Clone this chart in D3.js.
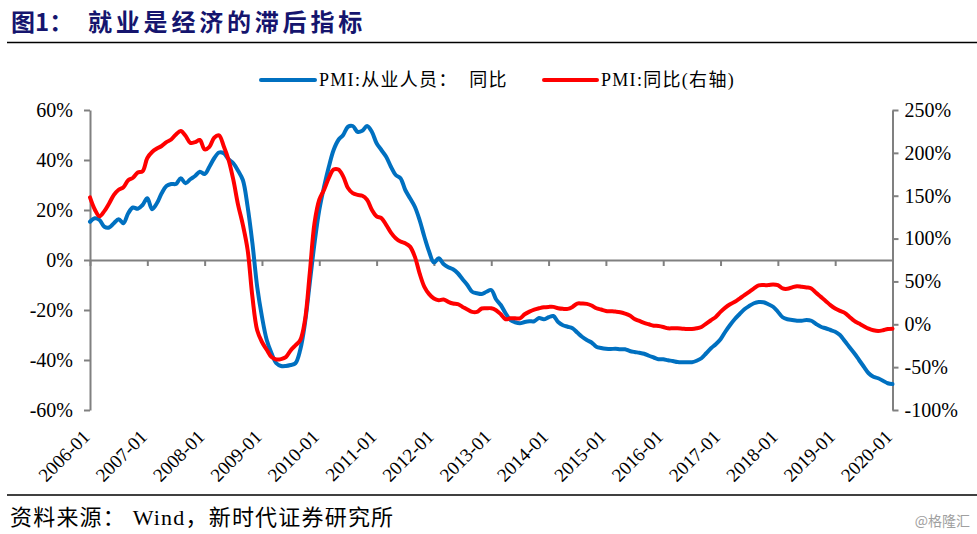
<!DOCTYPE html>
<html>
<head>
<meta charset="utf-8">
<script src="https://cdn.jsdelivr.net/npm/d3@7/dist/d3.min.js"></script>
<style>
  html, body { margin: 0; padding: 0; background: #ffffff; }
  svg { display: block; }
</style>
</head>
<body>
<svg id="chart" width="977" height="534"></svg>
<script>
// ---------- DATA ----------
const startYear = 2006;
const tickLabels = ["2006-01","2007-01","2008-01","2009-01","2010-01","2011-01","2012-01",
  "2013-01","2014-01","2015-01","2016-01","2017-01","2018-01","2019-01","2020-01"];
const leftTicks = [-60, -40, -20, 0, 20, 40, 60];
const rightTicks = [-100, -50, 0, 50, 100, 150, 200, 250];

// PMI:从业人员：同比 (%), monthly 2006-01 .. 2020-01 (left axis)
const employmentYoY = [
  15.3, 16.7, 16.0, 13.3, 13.0, 14.7, 16.3, 14.7, 18.7, 21.0, 20.5, 22.0,
  24.7, 20.3, 22.7, 26.7, 29.6, 30.4, 30.4, 32.7, 30.7, 32.3, 33.6, 35.3,
  34.4, 37.3, 40.7, 43.0, 42.7, 40.3, 38.7, 35.7, 32.0, 21.3, 6.7, -10.7,
  -22.7, -32.0, -37.3, -41.3, -42.4, -42.4, -42.0, -41.3, -36.0, -25.3, -9.3, 6.7,
  20.0, 29.3, 37.3, 44.0, 48.0, 50.0, 53.3, 53.6, 51.3, 51.7, 53.6, 51.3,
  46.7, 44.0, 41.3, 37.3, 34.0, 32.7, 28.0, 24.7, 21.3, 16.0, 9.3, 3.3,
  -1.0, 0.7, -1.6, -2.9, -3.7, -5.3, -7.7, -10.0, -12.7, -13.3, -13.6, -12.7,
  -12.0, -15.7, -18.0, -21.3, -24.0, -24.9, -25.3, -24.8, -24.5, -24.5, -23.2, -23.7,
  -22.9, -22.4, -24.8, -26.1, -26.7, -27.3, -29.0, -30.7, -32.0, -33.0, -34.7, -35.2,
  -35.5, -35.6, -35.5, -35.7, -35.7, -36.4, -36.8, -37.1, -37.5, -38.3, -39.0, -39.7,
  -39.7, -40.1, -40.4, -40.8, -40.9, -40.9, -40.9, -40.3, -39.3, -37.3, -35.3, -33.7,
  -31.7, -28.7, -26.0, -23.6, -21.6, -19.7, -18.4, -17.3, -16.8, -16.9, -17.7, -18.7,
  -20.7, -22.9, -23.7, -24.0, -24.3, -24.3, -24.0, -24.3, -25.6, -26.7, -27.3, -28.0,
  -28.7, -30.0, -32.4, -34.9, -37.3, -40.0, -42.7, -45.3, -46.7, -47.3, -48.3, -49.3,
  -49.6
];

// PMI:同比 (%), monthly 2006-01 .. 2020-01 (right axis)
const pmiYoY = [
  148, 134, 126, 132, 141, 151, 157, 160, 168, 171, 177, 178.5,
  194, 201, 205, 208, 212.5, 215.6, 221.5, 225.4, 220, 211.7, 212.5, 215,
  204, 207, 217.6, 220.3, 207.8, 192, 168.7, 139.4, 116, 86.7, 32, -7,
  -20.7, -29.7, -38.3, -41, -40.6, -38.3, -30.5, -24.6, -18.7, 4.7, 59.4, 118,
  145.3, 157, 170.7, 180.5, 180.5, 172.6, 159, 153, 151, 150, 145.3, 133.6,
  125.8, 123.8, 116, 107, 100.4, 96.5, 94.5, 90.6, 78.9, 59.4, 43.7, 35.2,
  30, 28, 28.9, 26.2, 24.2, 23.4, 20.3, 17.2, 14.5, 14.5, 18.4, 18.7,
  18.7, 16.4, 11.7, 5.9, 7, 7, 7, 11.7, 14.8, 17.2, 18.7, 19.9,
  20.3, 20.3, 18.7, 18, 18, 20.3, 24.2, 24.2, 23.8, 21.9, 18.7, 17.2,
  15.6, 15.2, 14.8, 14.1, 12.5, 10.2, 6.2, 3.9, 1.6, 0, -1.6, -2,
  -3.1, -4.7, -4.7, -4.7, -5.1, -5.5, -5.5, -4.7, -3.1, 0.8, 4.7, 8.6,
  14.5, 19.5, 23.4, 26.2, 30, 34, 37.9, 41.8, 45.3, 45.7, 45.7, 46.5,
  45.7, 41.8, 41.4, 43, 44.5, 43.7, 43, 41.8, 36.7, 32, 27.3, 22.3,
  18.4, 15.6, 13.3, 8.6, 3.9, 0.8, -2.3, -5.1, -7, -7.8, -7, -5.5,
  -5.1
];

const months = employmentYoY.map((_, i) => {
  const y = startYear + Math.floor(i / 12), m = (i % 12) + 1;
  return y + "-" + String(m).padStart(2, "0");
});

// ---------- CHART ----------
const svg = d3.select("#chart");
const W = 977, H = 534;
const plot = { left: 90, right: 892.5, top: 110, bottom: 410 };
const axisColor = "#808080";
const blue = "#0070C0", red = "#FF0000";
const serif = '"Liberation Serif", "Noto Sans CJK SC", serif';
const cjk = '"Liberation Serif", "Noto Sans CJK SC", sans-serif';

const x = d3.scaleLinear().domain([0, months.length - 1]).range([plot.left, plot.right]);
const yL = d3.scaleLinear().domain([-60, 60]).range([plot.bottom, plot.top]);
const yR = d3.scaleLinear().domain([-100, 250]).range([plot.bottom, plot.top]);

// Title
svg.append("text")
  .attr("x", 11).attr("y", 31)
  .attr("font-family", '"Noto Sans CJK SC", sans-serif')
  .attr("font-weight", "bold")
  .attr("font-size", 24)
  .attr("fill", "#15156e")
  .text("图1：");
svg.append("text")
  .attr("x", 88).attr("y", 31)
  .attr("font-family", '"Noto Sans CJK SC", sans-serif')
  .attr("font-weight", "bold")
  .attr("font-size", 24)
  .attr("letter-spacing", 3.8)
  .attr("fill", "#15156e")
  .text("就业是经济的滞后指标");
svg.append("line").attr("x1", 7).attr("x2", W).attr("y1", 42.5).attr("y2", 42.5)
  .attr("stroke", "#000").attr("stroke-width", 1.5);

// Legend
const legend = [
  { label: "PMI:从业人员：\u00a0\u00a0同比", color: blue, x1: 261, x2: 315, tx: 319 },
  { label: "PMI:同比(右轴)", color: red, x1: 544, x2: 597, tx: 601 }
];
legend.forEach(d => {
  svg.append("line").attr("x1", d.x1).attr("x2", d.x2).attr("y1", 80).attr("y2", 80)
    .attr("stroke", d.color).attr("stroke-width", 4).attr("stroke-linecap", "round");
  svg.append("text").attr("x", d.tx).attr("y", 86)
    .attr("font-family", cjk).attr("font-size", 18).attr("fill", "#000")
    .attr("letter-spacing", 1.3)
    .text(d.label);
});

// Left axis
const gL = svg.append("g").attr("transform", `translate(${plot.left},0)`)
  .call(d3.axisLeft(yL).tickValues(leftTicks).tickSize(6).tickSizeOuter(0)
    .tickFormat(d => d + "%"));
gL.select(".domain").attr("stroke", axisColor).attr("stroke-width", 2);
gL.selectAll(".tick line").attr("stroke", axisColor).attr("stroke-width", 2);
gL.selectAll(".tick text").attr("font-family", serif).attr("font-size", 20)
  .attr("fill", "#000").attr("x", -17);

// Right axis
const gR = svg.append("g").attr("transform", `translate(${plot.right},0)`)
  .call(d3.axisRight(yR).tickValues(rightTicks).tickSize(6).tickSizeOuter(0)
    .tickFormat(d => d + "%"));
gR.select(".domain").attr("stroke", axisColor).attr("stroke-width", 2);
gR.selectAll(".tick line").attr("stroke", axisColor).attr("stroke-width", 2);
gR.selectAll(".tick text").attr("font-family", serif).attr("font-size", 20)
  .attr("fill", "#000").attr("x", 12);

// X axis at zero line
const xTickIdx = tickLabels.map((_, i) => i * 12);
const gX = svg.append("g").attr("transform", `translate(0,${yL(0)})`)
  .call(d3.axisBottom(x).tickValues(xTickIdx).tickSize(6).tickSizeOuter(0).tickFormat(""));
gX.select(".domain").attr("stroke", axisColor).attr("stroke-width", 2);
gX.selectAll(".tick line").attr("stroke", axisColor).attr("stroke-width", 2);

// X labels below plot, rotated
svg.append("g").selectAll("text").data(tickLabels).join("text")
  .attr("transform", (d, i) => `translate(${x(i * 12) + 1},438) rotate(-45)`)
  .attr("text-anchor", "end")
  .attr("font-family", serif).attr("font-size", 19).attr("fill", "#000")
  .text(d => d);

// Lines
const lineL = d3.line().x((d, i) => x(i)).y(d => yL(d)).curve(d3.curveCatmullRom.alpha(0.5));
const lineR = d3.line().x((d, i) => x(i)).y(d => yR(d)).curve(d3.curveCatmullRom.alpha(0.5));
svg.append("path").datum(employmentYoY).attr("d", lineL)
  .attr("fill", "none").attr("stroke", blue).attr("stroke-width", 4)
  .attr("stroke-linejoin", "round").attr("stroke-linecap", "round");
svg.append("path").datum(pmiYoY).attr("d", lineR)
  .attr("fill", "none").attr("stroke", red).attr("stroke-width", 4)
  .attr("stroke-linejoin", "round").attr("stroke-linecap", "round");

// Footer
svg.append("line").attr("x1", 7).attr("x2", W).attr("y1", 495).attr("y2", 495)
  .attr("stroke", "#000").attr("stroke-width", 1.5);
svg.append("text").attr("x", 10).attr("y", 525)
  .attr("font-family", cjk).attr("font-size", 22).attr("fill", "#000")
  .attr("letter-spacing", 1.2)
  .text("资料来源：\u00a0Wind，新时代证券研究所");
svg.append("text").attr("x", 970).attr("y", 526).attr("text-anchor", "end")
  .attr("font-family", '"Noto Sans CJK SC", sans-serif').attr("font-size", 14)
  .attr("fill", "#a0a0a0")
  .text("@格隆汇");
</script>
</body>
</html>
